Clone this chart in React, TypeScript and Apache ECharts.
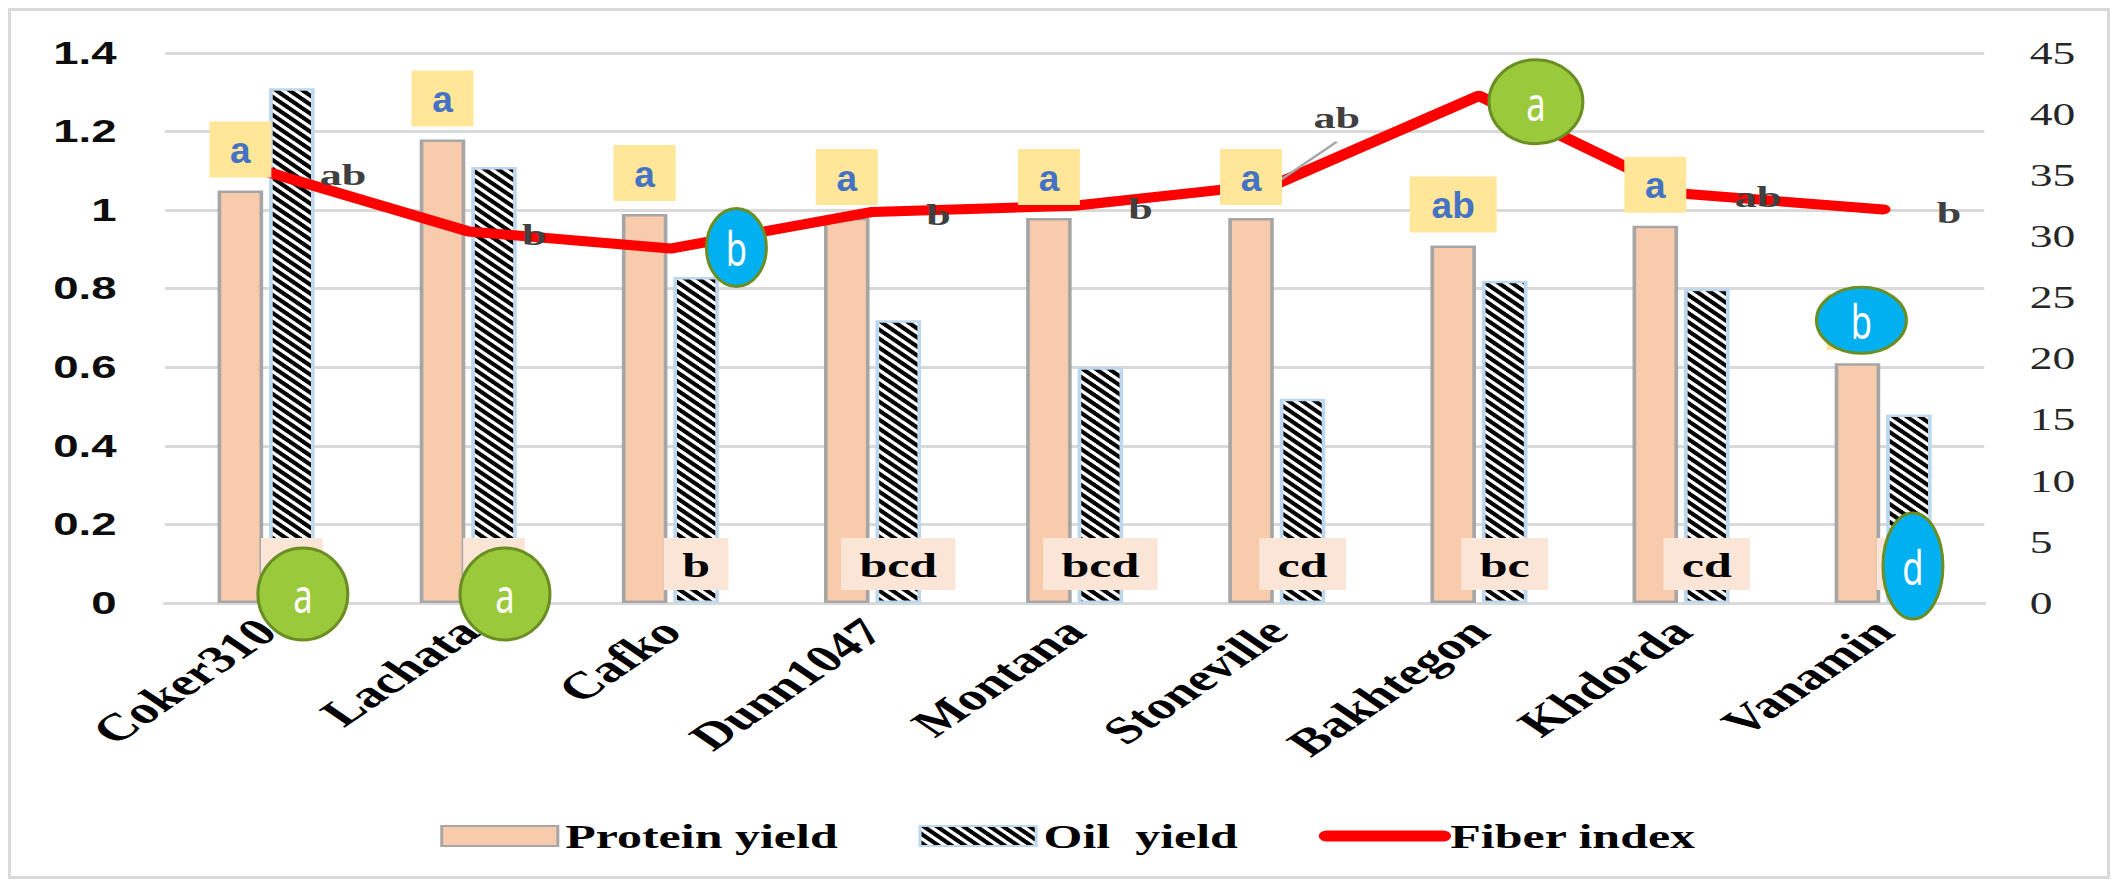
import React, { useEffect, useRef } from 'react';
import * as echarts from 'echarts';

// ---------- data ----------
const categories = ['Coker310', 'Lachata', 'Cafko', 'Dunn1047', 'Montana', 'Stoneville', 'Bakhtegon', 'Khdorda', 'Vanamin'];
const proteinYield = [1.05, 1.18, 0.99, 0.98, 0.98, 0.98, 0.91, 0.96, 0.61];
const oilYield = [1.31, 1.11, 0.83, 0.72, 0.6, 0.52, 0.82, 0.8, 0.48];
const fiberIndex = [35.3, 30.4, 29.0, 32.0, 32.5, 34.3, 41.5, 33.5, 32.2];
const proteinLetters = ['a', 'a', 'a', 'a', 'a', 'a', 'ab', 'a', 'b'];
const oilLetters = ['a', 'a', 'b', 'bcd', 'bcd', 'cd', 'bc', 'cd', 'd'];
const fiberLetters = ['ab', 'b', 'b', 'b', 'b', 'ab', 'a', 'ab', 'b'];
const circledProtein = [8];
const circledOil = [0, 1, 8];
const circledFiber = [2, 6];
const leftAxisRange = [0, 1.4];
const leftAxisStep = 0.2;
const rightAxisRange = [0, 45];
const rightAxisStep = 5;
const seriesNames = ['Protein yield', 'Oil  yield', 'Fiber index'];

// ---------- layout (the original picture is stretched horizontally) ----------
const S = 1.47;
const OUTER_W = 2102;
const OUTER_H = 871;
const BORDER = 3;
const INNER_W = (OUTER_W - 2 * BORDER) / S;
const INNER_H = OUTER_H - 2 * BORDER;
const BAR_W = 31;
const BAR_GAP = 0.13;
const BOX_H = 56;
const BOX_GAP = 13;
const TILE = 9;

const GREEN = { fill: '#9ACA3C', stroke: '#6B8E23' };
const BLUE = { fill: '#00B0F0', stroke: '#6B8E23' };

export default function App() {
  const ref = useRef<HTMLDivElement>(null);

  useEffect(() => {
    const el = ref.current as HTMLDivElement;
    const chart = echarts.init(el, null, { renderer: 'svg' });

    const cv = document.createElement('canvas');
    cv.width = TILE;
    cv.height = TILE;
    const ctx = cv.getContext('2d') as CanvasRenderingContext2D;
    ctx.fillStyle = '#ffffff';
    ctx.fillRect(0, 0, TILE, TILE);
    ctx.fillStyle = '#000000';
    for (let y = 0; y < TILE; y++) {
      for (let x = 0; x < TILE; x++) {
        if ((((x - y) % TILE) + TILE) % TILE < 5) ctx.fillRect(x, y, 1, 1);
      }
    }
    const stripe: any = { image: cv.toDataURL(), repeat: 'repeat', imageWidth: TILE, imageHeight: TILE };

    const serif = '"Liberation Serif", "Times New Roman", serif';
    const sans = '"Liberation Sans", Arial, sans-serif';

    const fiberData = fiberIndex.map((v, i) => {
      if (circledFiber.includes(i)) return { value: v, label: { show: false } };
      if (i === 5) return { value: v, label: { offset: [-11.5, -66] } };
      return { value: v };
    });

    chart.setOption({
      animation: false,
      backgroundColor: '#ffffff',
      grid: { left: 104.8, right: INNER_W - 1342.2, top: 42, bottom: INNER_H - 592, containLabel: false },
      legend: {
        left: 287,
        top: 803,
        itemWidth: 79,
        itemHeight: 20,
        itemGap: 55,
        selectedMode: false,
        textStyle: { fontFamily: serif, fontWeight: 'bold', fontSize: 34, color: '#000', lineHeight: 34 },
        data: [
          { name: seriesNames[0], icon: 'rect' },
          { name: seriesNames[1], icon: 'rect' },
          { name: seriesNames[2], itemStyle: { opacity: 0 }, lineStyle: { width: 11, cap: 'round' } },
        ],
      },
      xAxis: {
        type: 'category',
        data: categories,
        axisLine: { lineStyle: { color: '#D9D9D9', width: 3 } },
        axisTick: { show: false },
        axisLabel: {
          interval: 0,
          rotate: 45,
          margin: 22,
          fontFamily: serif,
          fontWeight: 'bold',
          fontSize: 38,
          color: '#000',
        },
      },
      yAxis: [
        {
          type: 'value',
          min: leftAxisRange[0],
          max: leftAxisRange[1],
          interval: leftAxisStep,
          axisLine: { show: false },
          axisTick: { show: false },
          splitLine: { lineStyle: { color: '#D9D9D9', width: 3 } },
          axisLabel: { margin: 33, fontFamily: sans, fontWeight: 'bold', fontSize: 31, color: '#0d0d0d' },
        },
        {
          type: 'value',
          position: 'right',
          min: rightAxisRange[0],
          max: rightAxisRange[1],
          interval: rightAxisStep,
          axisLine: { show: false },
          axisTick: { show: false },
          splitLine: { show: false },
          axisLabel: { margin: 31, fontFamily: serif, fontSize: 31, color: '#262626' },
        },
      ],
      series: [
        {
          name: seriesNames[0],
          type: 'bar',
          barWidth: BAR_W,
          barGap: `${BAR_GAP * 100}%`,
          data: proteinYield,
          itemStyle: { color: '#F8CBAD', borderColor: '#A6A6A6', borderWidth: 2.5 },
          z: 2,
        },
        {
          name: seriesNames[1],
          type: 'bar',
          barWidth: BAR_W,
          data: oilYield,
          itemStyle: { color: stripe, borderColor: '#BDD7EE', borderWidth: 2.5 },
          label: {
            show: true,
            position: 'insideBottom',
            distance: 13,
            formatter: (p: any) => oilLetters[p.dataIndex],
            fontFamily: serif,
            fontWeight: 'bold',
            fontSize: 34,
            lineHeight: 34,
            color: '#000',
            backgroundColor: '#FBE5D6',
            padding: [10, 12.5, 8, 12.5],
          },
          z: 2,
        },
        {
          name: seriesNames[2],
          type: 'line',
          yAxisIndex: 1,
          data: fiberData,
          symbol: 'circle',
          symbolSize: 1,
          showSymbol: true,
          lineStyle: { color: '#FF0000', width: 10, cap: 'round', join: 'round' },
          itemStyle: { color: '#FF0000' },
          label: {
            show: true,
            position: 'right',
            distance: 36,
            offset: [0, 3],
            formatter: (p: any) => fiberLetters[p.dataIndex],
            fontFamily: serif,
            fontWeight: 'bold',
            fontSize: 30,
            color: '#404040',
          },
          z: 3,
        },
      ],
    });

    // ---------- annotations (placed through the chart's own scales) ----------
    const OFF = (BAR_W * (1 + BAR_GAP)) / 2;
    const toPx = (i: number, v: number, yi: number) =>
      chart.convertToPixel({ xAxisIndex: 0, yAxisIndex: yi }, [i, v]) as number[];

    const graphics: any[] = [];

    const boxCenter = (i: number) => {
      const [cx, ty] = toPx(i, proteinYield[i], 0);
      return [cx - OFF, ty - BOX_GAP - BOX_H / 2];
    };

    proteinYield.forEach((_, i) => {
      const [bx, by] = boxCenter(i);
      const w = proteinLetters[i].length > 1 ? 87 : 62;
      const children: any[] = [
        { type: 'rect', z: 10, shape: { x: -w / 2, y: -BOX_H / 2, width: w, height: BOX_H }, style: { fill: '#FFE699' } },
      ];
      if (!circledProtein.includes(i)) {
        children.push({
          type: 'text',
          z: 11,
          x: 0,
          y: 1,
          style: {
            text: proteinLetters[i],
            fill: '#4472C4',
            font: `bold 37px ${sans}`,
            align: 'center',
            verticalAlign: 'middle',
            textAlign: 'center',
            textVerticalAlign: 'middle',
          },
        });
      }
      graphics.push({ type: 'group', x: bx, y: by, scaleX: 1 / S, z: 10, children });
    });

    const circle = (ax: number, ay: number, dx: number, dy: number, rx: number, ry: number, col: any, letter: string) => {
      graphics.push({
        type: 'group',
        x: ax + dx / S,
        y: ay + dy,
        scaleX: 1 / S,
        z: 20,
        children: [
          { type: 'ellipse', z: 20, shape: { cx: 0, cy: 0, rx, ry }, style: { fill: col.fill, stroke: col.stroke, lineWidth: 3 } },
          {
            type: 'text',
            z: 21,
            x: 0,
            y: 0,
            scaleX: 0.72,
            style: {
              text: letter,
              fill: '#ffffff',
              font: '48px "Noto Sans", sans-serif',
              align: 'center',
              verticalAlign: 'middle',
              textAlign: 'center',
              textVerticalAlign: 'middle',
            },
          },
        ],
      });
    };

    circledOil.forEach((i) => {
      const [cx, by] = toPx(i, 0, 0);
      if (i === 8) circle(cx + OFF, by, 4, -37, 30, 53, BLUE, oilLetters[i]);
      else circle(cx + OFF, by, 11, -9, 45, 46, GREEN, oilLetters[i]);
    });
    circledProtein.forEach((i) => {
      const [bx, by] = boxCenter(i);
      circle(bx, by, 4, -2, 45, 33, BLUE, proteinLetters[i]);
    });
    circledFiber.forEach((i) => {
      const [px, py] = toPx(i, fiberIndex[i], 1);
      if (i === 6) circle(px, py, 57, 6, 47, 42, GREEN, fiberLetters[i]);
      else circle(px, py, 66, -1, 30, 39, BLUE, fiberLetters[i]);
    });

    {
      const [px, py] = toPx(5, fiberIndex[5], 1);
      graphics.push({
        type: 'line',
        z: 5,
        shape: { x1: px + 1 / S, y1: py - 2, x2: px + 60 / S, y2: py - 42 },
        style: { stroke: '#A6A6A6', lineWidth: 2 },
      });
    }

    chart.setOption({ graphic: graphics });

    return () => {
      chart.dispose();
    };
  }, []);

  return (
    <div
      style={{
        position: 'relative',
        width: OUTER_W,
        height: OUTER_H,
        boxSizing: 'border-box',
        border: `${BORDER}px solid #D9D9D9`,
        overflow: 'hidden',
        background: '#ffffff',
      }}
    >
      <div
        ref={ref}
        style={{
          position: 'absolute',
          left: 0,
          top: 0,
          width: INNER_W,
          height: INNER_H,
          transform: `scaleX(${S})`,
          transformOrigin: '0 0',
        }}
      />
    </div>
  );
}
